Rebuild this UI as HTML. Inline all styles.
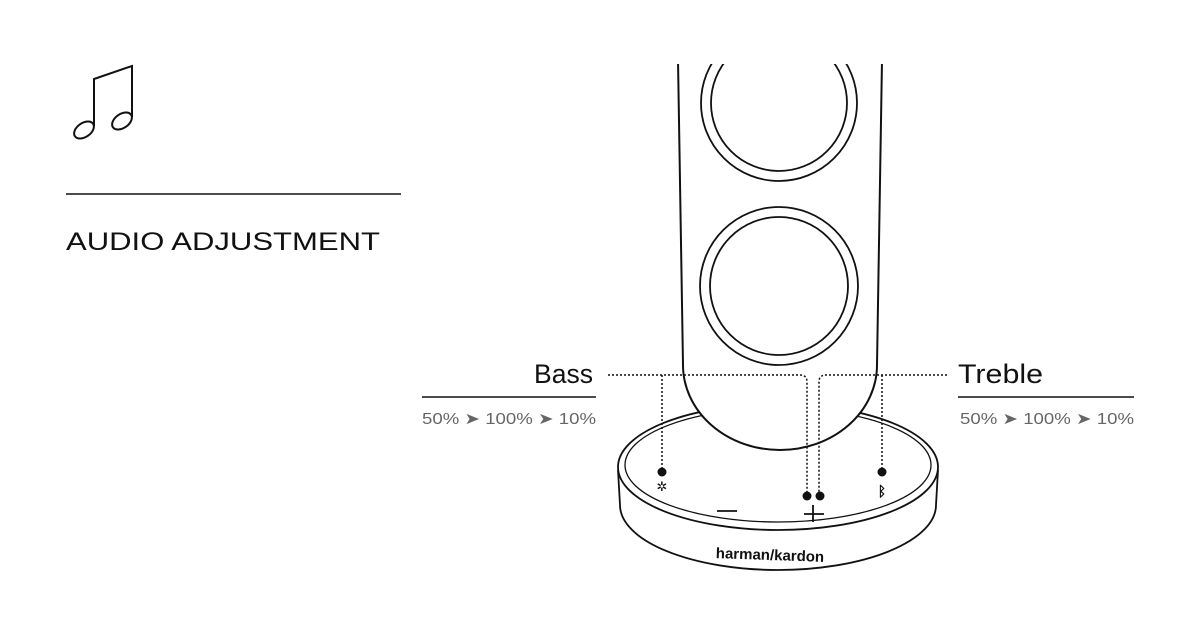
<!DOCTYPE html>
<html><head><meta charset="utf-8"><style>
html,body{margin:0;padding:0;background:#fff;}
svg{display:block}
</style></head><body>
<svg width="1200" height="640" viewBox="0 0 1200 640" xmlns="http://www.w3.org/2000/svg">
<!-- music icon -->
<g fill="none" stroke="#111" stroke-width="2">
<path d="M94 126 V79 L132 66 V117"/>
<ellipse cx="84" cy="130" rx="11" ry="7" transform="rotate(-35 84 130)"/>
<ellipse cx="122" cy="121" rx="11" ry="7" transform="rotate(-35 122 121)"/>
</g>
<line x1="66" y1="194" x2="401" y2="194" stroke="#111" stroke-width="1.5"/>
<text x="66" y="250" font-family="Liberation Sans, sans-serif" font-size="25" fill="#111" textLength="314" lengthAdjust="spacingAndGlyphs">AUDIO ADJUSTMENT</text>

<!-- base -->
<g fill="#fff" stroke="#111" stroke-width="1.8">
<path d="M618 470 L620 505 A158 65 0 0 0 936 505 L938 470"/>
<ellipse cx="778" cy="467" rx="160" ry="63"/>
<ellipse cx="778" cy="465" rx="153" ry="57" stroke-width="1.3"/>
</g>
<!-- body -->
<path d="M678 60 L683 365 A97 85 0 0 0 877 365 L882 60" fill="#fff" stroke="#111" stroke-width="2"/>
<g fill="none" stroke="#111" stroke-width="1.8">
<circle cx="779" cy="103" r="78"/>
<circle cx="779" cy="103" r="68"/>
<circle cx="779" cy="286" r="79"/>
<circle cx="779" cy="286" r="69"/>
</g>
<rect x="600" y="0" width="400" height="64" fill="#fff"/>

<!-- base symbols -->
<text x="770" y="560" text-anchor="middle" font-family="Liberation Sans, sans-serif" font-weight="bold" font-size="15" fill="#111" transform="rotate(2 770 555)">harman/kardon</text>
<line x1="717" y1="511" x2="737" y2="511" stroke="#111" stroke-width="1.8"/>
<path d="M804 514 H824 M813 505 V522" stroke="#111" stroke-width="1.8"/>
<text x="662" y="491" text-anchor="middle" font-family="DejaVu Sans, sans-serif" font-size="13" fill="#111">✲</text>
<text x="882" y="496" text-anchor="middle" font-family="DejaVu Sans, sans-serif" font-size="14" font-weight="bold" fill="#111">ᛒ</text>

<!-- dotted leaders -->
<g fill="none" stroke="#111" stroke-width="1.5" stroke-dasharray="2 2">
<path d="M608 375 H800 Q807 375 807 382 V496"/>
<path d="M662 375 V472"/>
<path d="M947 375 H826 Q819 375 819 382 V496"/>
<path d="M882 375 V472"/>
</g>
<g fill="#111">
<circle cx="662" cy="472" r="4.5"/>
<circle cx="807" cy="496" r="4.5"/>
<circle cx="820" cy="496" r="4.5"/>
<circle cx="882" cy="472" r="4.5"/>
</g>

<!-- labels -->
<text x="534" y="383" font-family="Liberation Sans, sans-serif" font-size="27" fill="#111" textLength="59" lengthAdjust="spacingAndGlyphs">Bass</text>
<line x1="422" y1="397" x2="596" y2="397" stroke="#111" stroke-width="1.5"/>
<text x="422" y="424" font-family="Liberation Sans, sans-serif" font-size="16" fill="#666" textLength="174" lengthAdjust="spacingAndGlyphs">50% ➤ 100% ➤ 10%</text>
<text x="958" y="383" font-family="Liberation Sans, sans-serif" font-size="27" fill="#111" textLength="85" lengthAdjust="spacingAndGlyphs">Treble</text>
<line x1="958" y1="397" x2="1134" y2="397" stroke="#111" stroke-width="1.5"/>
<text x="960" y="424" font-family="Liberation Sans, sans-serif" font-size="16" fill="#666" textLength="174" lengthAdjust="spacingAndGlyphs">50% ➤ 100% ➤ 10%</text>
</svg>
</body></html>
